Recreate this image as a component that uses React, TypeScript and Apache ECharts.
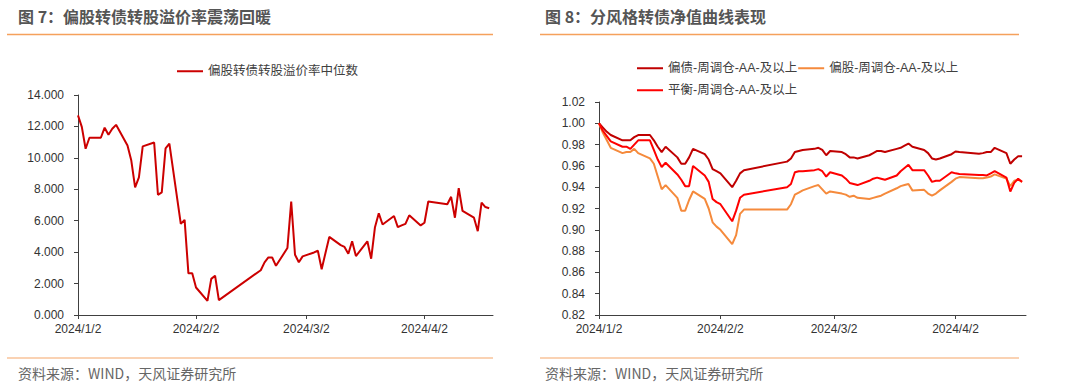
import React, { useEffect, useRef } from "react";
import * as echarts from "echarts";

// ---- data ----
const tradingDates = [
  "2024/1/2", "2024/1/3", "2024/1/4", "2024/1/5", "2024/1/8", "2024/1/9", "2024/1/10", "2024/1/11", "2024/1/12",
  "2024/1/15", "2024/1/16", "2024/1/17", "2024/1/18", "2024/1/19", "2024/1/22", "2024/1/23", "2024/1/24", "2024/1/25",
  "2024/1/26", "2024/1/29", "2024/1/30", "2024/1/31",
  "2024/2/1", "2024/2/2", "2024/2/5", "2024/2/6", "2024/2/7", "2024/2/8", "2024/2/19", "2024/2/20", "2024/2/21",
  "2024/2/22", "2024/2/23", "2024/2/26", "2024/2/27", "2024/2/28", "2024/2/29",
  "2024/3/1", "2024/3/4", "2024/3/5", "2024/3/6", "2024/3/7", "2024/3/8", "2024/3/11", "2024/3/12", "2024/3/13",
  "2024/3/14", "2024/3/15", "2024/3/18", "2024/3/19", "2024/3/20", "2024/3/21", "2024/3/22", "2024/3/25", "2024/3/26",
  "2024/3/27", "2024/3/28", "2024/3/29",
  "2024/4/1", "2024/4/2", "2024/4/3", "2024/4/8", "2024/4/9", "2024/4/10", "2024/4/11", "2024/4/12", "2024/4/15",
  "2024/4/16", "2024/4/17", "2024/4/18", "2024/4/19",
];

const premiumMedian = [
  12.70, 11.97, 10.58, 11.28, 11.28, 11.92, 11.47, 11.85, 12.10, 10.79, 9.83, 8.12, 8.76, 10.73, 10.98, 7.65, 7.80,
  10.60, 10.90, 5.80, 6.05, 2.65,
  2.65, 1.75, 0.90, 2.30, 2.50, 0.95, 2.85, 3.35, 3.66, 3.66, 3.13, 4.26, 7.22, 3.83, 3.36,
  3.73, 3.98, 4.09, 2.91, 3.95, 4.97, 4.45, 4.33, 3.90, 4.69, 3.75, 4.69, 3.58, 5.59, 6.47, 5.76, 6.30, 5.59, 5.70,
  5.80, 6.34,
  5.70, 5.87, 7.22, 7.05, 7.52, 6.19, 8.07, 6.62, 6.19, 5.33, 7.15, 6.87, 6.79,
];

const bondBiasNav = [
  1.000, 0.996, 0.992, 0.989, 0.984, 0.984, 0.984, 0.987, 0.989, 0.989, 0.984, 0.978, 0.973, 0.978, 0.968, 0.962,
  0.962, 0.968, 0.976, 0.971, 0.966, 0.957,
  0.955, 0.953, 0.940, 0.946, 0.953, 0.956, 0.964, 0.967, 0.973, 0.974, 0.975, 0.976, 0.977, 0.975, 0.970,
  0.974, 0.973, 0.971, 0.968, 0.968, 0.967, 0.970, 0.972, 0.974, 0.974, 0.973, 0.976, 0.977, 0.979, 0.981, 0.978,
  0.975, 0.972, 0.967, 0.966, 0.967,
  0.971, 0.9735, 0.973, 0.9715, 0.972, 0.973, 0.973, 0.977, 0.972, 0.962, 0.966, 0.969, 0.969,
];

const equityBiasNav = [
  1.000, 0.991, 0.984, 0.977, 0.972, 0.973, 0.973, 0.976, 0.972, 0.967, 0.962, 0.950, 0.938, 0.942, 0.930, 0.918,
  0.918, 0.928, 0.936, 0.929, 0.920, 0.907,
  0.903, 0.900, 0.8865, 0.895, 0.915, 0.919, 0.919, 0.924, 0.933, 0.935, 0.937, 0.941, 0.942, 0.938, 0.934,
  0.936, 0.934, 0.933, 0.931, 0.932, 0.930, 0.929, 0.930, 0.931, 0.932, 0.934, 0.939, 0.941, 0.942, 0.943, 0.937,
  0.9375, 0.934, 0.932, 0.934, 0.937,
  0.945, 0.948, 0.9495, 0.9485, 0.9485, 0.949, 0.950, 0.952, 0.948, 0.941, 0.946, 0.947, 0.945,
];

const balancedNav = [
  1.000, 0.993, 0.988, 0.983, 0.978, 0.978, 0.976, 0.980, 0.984, 0.984, 0.975, 0.966, 0.959, 0.963, 0.952, 0.947,
  0.941, 0.941, 0.960, 0.951, 0.945, 0.929,
  0.926, 0.924, 0.908, 0.918, 0.930, 0.933, 0.940, 0.943, 0.954, 0.955, 0.955, 0.956, 0.957, 0.955, 0.950,
  0.954, 0.951, 0.948, 0.944, 0.943, 0.942, 0.946, 0.948, 0.949, 0.948, 0.947, 0.951, 0.955, 0.958, 0.961, 0.956,
  0.956, 0.951, 0.945, 0.946, 0.946,
  0.954, 0.953, 0.9525, 0.9515, 0.9515, 0.951, 0.953, 0.955, 0.949, 0.936, 0.944, 0.948, 0.945,
];

const xTickLabels = ["2024/1/2", "2024/2/2", "2024/3/2", "2024/4/2"];
const axisStart = [2024, 1, 2];
const axisEnd = [2024, 4, 20];

const leftTitle = "图 7：偏股转债转股溢价率震荡回暖";
const rightTitle = "图 8：分风格转债净值曲线表现";
const sourceText = "资料来源：WIND，天风证券研究所";
const premiumName = "偏股转债转股溢价率中位数";
const bondBiasName = "偏债-周调仓-AA-及以上";
const equityBiasName = "偏股-周调仓-AA-及以上";
const balancedName = "平衡-周调仓-AA-及以上";

function buildCalendar(): string[] {
  const out: string[] = [];
  const d = new Date(axisStart[0], axisStart[1] - 1, axisStart[2]);
  const end = new Date(axisEnd[0], axisEnd[1] - 1, axisEnd[2]);
  while (d.getTime() <= end.getTime()) {
    out.push(`${d.getFullYear()}/${d.getMonth() + 1}/${d.getDate()}`);
    d.setDate(d.getDate() + 1);
  }
  return out;
}

const LATIN = '"Liberation Sans", Arial, "Noto Sans CJK SC", sans-serif';
const CJK = '"Noto Sans CJK SC", sans-serif';
const AXIS_COLOR = "#404040";
const LABEL_COLOR = "#333333";

export default function App() {
  const ref = useRef<HTMLDivElement>(null);

  useEffect(() => {
    if (!ref.current) return;
    const chart = echarts.init(ref.current, undefined, { renderer: "svg" });
    const calendar = buildCalendar();
    const showTick = (_i: number, v: string) => xTickLabels.indexOf(v) >= 0;

    const xAxisBase = (gridIndex: number) => ({
      gridIndex,
      type: "category",
      data: calendar,
      boundaryGap: false,
      axisLine: { show: true, lineStyle: { color: AXIS_COLOR, width: 1 } },
      axisTick: { show: true, length: 4, interval: showTick, lineStyle: { color: AXIS_COLOR } },
      axisLabel: {
        interval: showTick,
        color: LABEL_COLOR,
        fontSize: 12,
        fontFamily: LATIN,
        margin: 8,
      },
      splitLine: { show: false },
    });

    const pairs = (vals: number[]) => tradingDates.map((d, i) => [d, vals[i]]);

    const lineSeries = (name: string, vals: number[], color: string, idx: number) => ({
      name,
      type: "line",
      xAxisIndex: idx,
      yAxisIndex: idx,
      data: pairs(vals),
      symbol: "none",
      showSymbol: false,
      lineStyle: { color, width: 2 },
      itemStyle: { color },
    });

    const legendText = { color: "#404040", fontSize: 12.5, fontFamily: LATIN };

    chart.setOption({
      animation: false,
      backgroundColor: "#ffffff",
      grid: [
        { left: 78, top: 95, right: 587, bottom: 77, containLabel: false },
        { left: 599, top: 102, right: 54, bottom: 77, containLabel: false },
      ],
      xAxis: [xAxisBase(0), xAxisBase(1)],
      yAxis: [
        {
          gridIndex: 0,
          type: "value",
          min: 0,
          max: 14,
          interval: 2,
          axisLine: { show: true, lineStyle: { color: AXIS_COLOR, width: 1 } },
          axisTick: { show: true, length: 4, lineStyle: { color: AXIS_COLOR } },
          axisLabel: {
            formatter: (v: number) => v.toFixed(3),
            color: LABEL_COLOR,
            fontSize: 12,
            fontFamily: LATIN,
            margin: 14,
          },
          splitLine: { show: false },
        },
        {
          gridIndex: 1,
          type: "value",
          min: 0.82,
          max: 1.02,
          interval: 0.02,
          axisLine: { show: true, lineStyle: { color: AXIS_COLOR, width: 1 } },
          axisTick: { show: true, length: 4, lineStyle: { color: AXIS_COLOR } },
          axisLabel: {
            formatter: (v: number) => v.toFixed(2),
            color: LABEL_COLOR,
            fontSize: 12,
            fontFamily: LATIN,
            margin: 14,
          },
          splitLine: { show: false },
        },
      ],
      legend: [
        {
          data: [premiumName],
          left: 172,
          top: 60,
          icon: "rect",
          itemWidth: 26,
          itemHeight: 2,
          itemGap: 4,
          textStyle: legendText,
        },
        {
          data: [bondBiasName, equityBiasName],
          left: 632,
          top: 57,
          icon: "rect",
          itemWidth: 26,
          itemHeight: 2,
          itemGap: 1,
          textStyle: legendText,
        },
        {
          data: [balancedName],
          left: 632,
          top: 79,
          icon: "rect",
          itemWidth: 26,
          itemHeight: 2,
          itemGap: 1,
          textStyle: legendText,
        },
      ],
      series: [
        lineSeries(premiumName, premiumMedian, "#CC0000", 0),
        lineSeries(bondBiasName, bondBiasNav, "#C00000", 1),
        lineSeries(equityBiasName, equityBiasNav, "#F58A3C", 1),
        lineSeries(balancedName, balancedNav, "#FF0000", 1),
      ],
      graphic: [
        {
          type: "text",
          left: 18,
          top: 8,
          style: { text: leftTitle, fill: "#555555", font: `bold 16px ${CJK}` },
        },
        {
          type: "text",
          left: 545,
          top: 8,
          style: { text: rightTitle, fill: "#555555", font: `bold 16px ${CJK}` },
        },
        {
          type: "line",
          shape: { x1: 7, y1: 34.5, x2: 493, y2: 34.5 },
          style: { stroke: "#F5A15C", lineWidth: 1.5 },
        },
        {
          type: "line",
          shape: { x1: 540, y1: 34.5, x2: 1019, y2: 34.5 },
          style: { stroke: "#F5A15C", lineWidth: 1.5 },
        },
        {
          type: "line",
          shape: { x1: 7, y1: 358, x2: 493, y2: 358 },
          style: { stroke: "#F9C39A", lineWidth: 1.5 },
        },
        {
          type: "line",
          shape: { x1: 540, y1: 358, x2: 1019, y2: 358 },
          style: { stroke: "#F9C39A", lineWidth: 1.5 },
        },
        {
          type: "text",
          left: 18,
          top: 366,
          style: { text: sourceText, fill: "#666666", font: `14px ${CJK}` },
        },
        {
          type: "text",
          left: 545,
          top: 366,
          style: { text: sourceText, fill: "#666666", font: `14px ${CJK}` },
        },
      ],
    });

    return () => {
      chart.dispose();
    };
  }, []);

  return (
    <div
      ref={ref}
      style={{ position: "absolute", left: 0, top: 0, width: 1080, height: 392, background: "#fff" }}
    />
  );
}
